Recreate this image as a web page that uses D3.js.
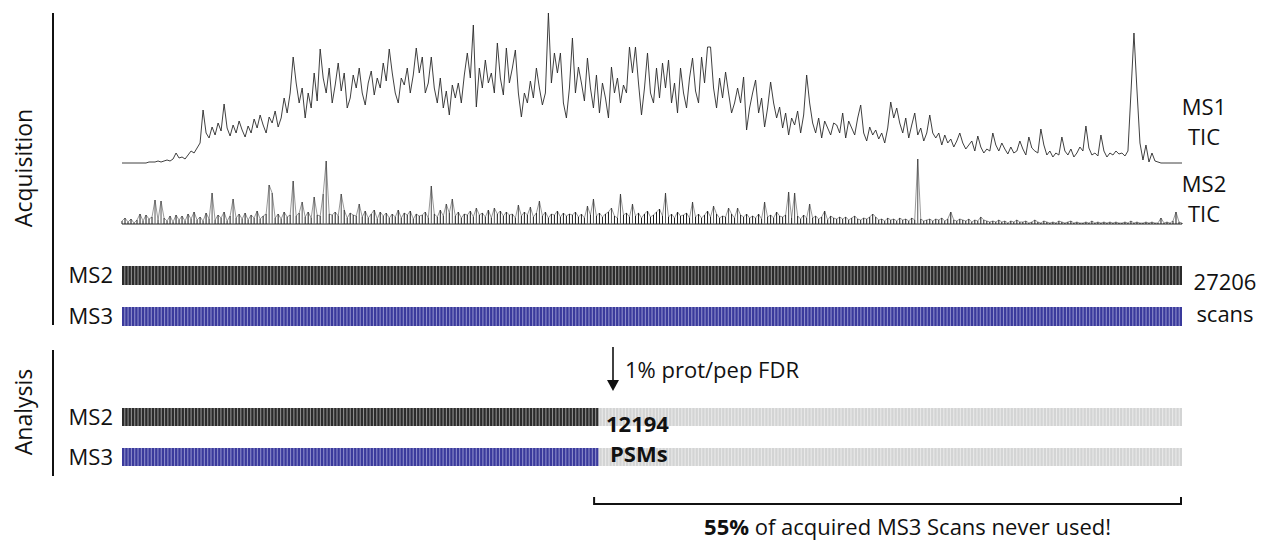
<!DOCTYPE html>
<html>
<head>
<meta charset="utf-8">
<script src="https://cdn.jsdelivr.net/npm/d3@7"></script>
<style>
  html, body { margin: 0; padding: 0; background: #fff; }
  svg { display: block; font-family: "Open Sans", "Noto Sans", sans-serif; }
</style>
</head>
<body>
<svg id="chart" width="1262" height="540"></svg>
<script>
// ---------------- DATA ----------------
// MS1 total ion current (relative intensity), evenly spaced in acquisition order
const ms1Tic = [
  0,0,0,0,0,0,0,0,0,1,
  1,1,2,1,2,3,2,4,10,5,6,4,8,12,10,15,
  20,53,30,25,36,28,40,32,59,35,27,38,30,42,33,26,37,
  30,44,35,48,38,30,46,40,52,36,45,65,50,
  70,106,80,60,75,45,70,55,90,62,
  114,85,70,95,60,78,100,72,90,55,65,88,75,95,70,58,80,92,68,85,75,100,82,114,90,70,60,85,78,95,70,88,115,
  90,106,70,80,106,75,60,85,55,72,48,78,65,80,60,88,110,
  85,138,56,95,75,103,80,90,70,120,85,68,115,80,95,113,70,
  46,70,60,82,65,95,75,58,70,150,80,110,90,
  110,60,45,75,125,70,96,80,62,105,75,55,88,
  50,80,65,45,96,70,85,60,78,70,116,90,116,
  80,48,75,110,70,60,95,65,100,75,103,60,80,50,95,70,55,85,105,72,
  60,106,80,116,116,75,55,85,65,91,70,50,60,
  75,60,86,33,55,70,83,50,65,36,55,81,60,
  45,56,35,50,28,45,38,52,30,48,88,60,40,30,45,25,42,35,28,40,
  38,30,50,25,42,35,28,45,58,30,22,36,28,33,24,30,20,35,61,45,
  55,40,30,45,25,38,50,28,35,22,30,48,30,
  25,30,18,28,20,24,16,22,30,20,14,18,22,12,27,16,10,14,12,30,
  18,12,20,14,9,16,10,12,22,14,8,26,15,12,10,34,18,8,12,6,
  10,8,26,12,8,14,6,10,16,12,37,15,8,10,7,28,12,6,10,8,12,9,10,7,12,70,
  130,73,20,3,18,1,10,2,1,0,0,0,0,0,0,0,0
];
// MS2 total ion current (relative intensity), same spacing
const ms2Tic = [
  3,6,2,5,1,4,10,3,9,5,
  7,24,4,23,6,3,8,2,9,4,
  8,3,10,5,12,4,7,3,11,5,
  31,4,9,6,12,3,8,25,6,10,
  5,11,4,9,6,13,5,8,10,39,
  31,6,10,5,12,7,9,43,8,11,
  22,7,12,6,27,9,8,30,63,10,
  9,12,8,30,14,6,11,9,8,20,
  7,13,6,10,14,5,12,8,11,6,
  10,7,14,6,11,9,13,5,10,8,
  9,12,6,38,10,7,14,8,20,11,
  25,8,12,6,10,9,13,7,16,9,
  11,7,14,6,16,10,13,8,12,9,
  10,6,19,8,12,9,17,7,11,23,
  8,12,6,10,9,13,7,11,8,10,
  9,12,7,10,6,18,9,25,8,11,
  7,10,12,16,8,6,30,9,11,7,
  20,8,11,6,10,13,7,9,12,15,
  8,31,7,10,6,12,8,9,11,6,
  22,7,10,6,9,13,7,18,10,6,
  8,7,16,10,6,16,9,7,10,6,
  8,6,10,5,22,7,9,6,12,8,
  7,9,32,6,31,8,5,9,6,20,
  6,8,5,7,13,4,8,6,5,7,
  5,7,4,6,8,5,4,6,5,7,
  10,7,4,5,3,6,4,5,3,6,
  4,5,3,6,4,65,5,3,4,5,
  3,5,4,6,3,5,12,4,3,5,
  4,3,5,2,4,3,7,4,3,2,
  3,2,4,2,3,1,3,2,4,2,
  2,3,1,2,4,2,1,3,2,1,
  2,1,3,2,1,2,3,1,2,1,
  1,2,1,3,1,2,1,2,1,2,
  1,2,1,1,2,1,3,1,2,1,
  1,2,1,2,1,1,6,1,2,1,
  3,12,2,1
];
const acquiredScans = 27206;      // MS2 / MS3 scans acquired
const psmCount = 12194;           // scans passing 1% prot/pep FDR
const scanBins = 320;             // stripes drawn per bar
const scanRows = ["MS2", "MS3"];
const ticLabels = [["MS1", "TIC"], ["MS2", "TIC"]];
const sectionLabels = ["Acquisition", "Analysis"];
const fdrLabel = "1% prot/pep FDR";
const unusedPct = "55%";
const unusedText = " of acquired MS3 Scans never used!";

// ---------------- DRAW ----------------
const svg = d3.select("#chart");
const X0 = 122, X1 = 1182;
const FS = 22;

const xIdx = d3.scaleLinear().domain([0, ms1Tic.length - 1]).range([X0, X1]);
const yMs1 = d3.scaleLinear().domain([0, 150]).range([163, 13]);
const yMs2 = d3.scaleLinear().domain([0, 64]).range([224, 160]);

svg.append("path")
  .datum(ms1Tic)
  .attr("fill", "none").attr("stroke", "#2a2a2a").attr("stroke-width", 0.9)
  .attr("stroke-linejoin", "round")
  .attr("d", d3.line().x((d, i) => xIdx(i)).y(d => yMs1(d)));

// MS2 TIC as a comb of sticks on a baseline, plus a thin trace
svg.append("line").attr("x1", X0).attr("x2", X1).attr("y1", yMs2(0)).attr("y2", yMs2(0))
  .attr("stroke", "#222").attr("stroke-width", 1.2);
svg.append("g").selectAll("line").data(ms2Tic).join("line")
  .attr("x1", (d, i) => xIdx(i)).attr("x2", (d, i) => xIdx(i))
  .attr("y1", yMs2(0)).attr("y2", d => yMs2(d))
  .attr("stroke", d => (d > 15 ? "#555" : "#1a1a1a")).attr("stroke-width", 1);
svg.append("path")
  .datum(ms2Tic)
  .attr("fill", "none").attr("stroke", "#333").attr("stroke-width", 0.5)
  .attr("d", d3.line().x((d, i) => xIdx(i)).y(d => yMs2(d)));

// TIC labels
const ticLabelY = [[115, 145], [192, 222]];
ticLabels.forEach((lines, k) => {
  lines.forEach((t, j) => {
    svg.append("text").attr("x", 1204).attr("y", ticLabelY[k][j])
      .attr("text-anchor", "middle").attr("font-size", FS).attr("fill", "#111").text(t);
  });
});

// scan bars
const xScan = d3.scaleLinear().domain([0, acquiredScans]).range([X0, X1]);
const band = d3.scaleBand().domain(d3.range(scanBins)).range([X0, X1]).paddingInner(0.33);
const binSize = acquiredScans / scanBins;

const palette = {
  MS2: { dark: "#2b2b2b", light: "#8e8e8e" },
  MS3: { dark: "#3a3a9c", light: "#8c8cca" },
  unused: { dark: "#d3d4d4", light: "#e9e9e9" }
};

function drawBar(row, y, h, cutoff) {
  const g = svg.append("g");
  const pUsed = palette[row];
  const xCut = xScan(cutoff);
  g.append("rect").attr("x", X0).attr("y", y).attr("width", xCut - X0).attr("height", h).attr("fill", pUsed.light);
  if (cutoff < acquiredScans) {
    g.append("rect").attr("x", xCut).attr("y", y).attr("width", X1 - xCut).attr("height", h).attr("fill", palette.unused.light);
  }
  g.selectAll("rect.s").data(d3.range(scanBins)).join("rect")
    .attr("class", "s")
    .attr("x", d => band(d)).attr("y", y)
    .attr("width", band.bandwidth()).attr("height", h)
    .attr("fill", d => (d * binSize < cutoff ? pUsed.dark : palette.unused.dark));
}

const acqY = { MS2: 266, MS3: 307 };
const anaY = { MS2: 408, MS3: 448 };
scanRows.forEach(r => {
  drawBar(r, acqY[r], 19, acquiredScans);
  drawBar(r, anaY[r], 18, psmCount);
  svg.append("text").attr("x", 113).attr("y", acqY[r] + 17).attr("text-anchor", "end")
    .attr("font-size", FS).attr("fill", "#111").text(r);
  svg.append("text").attr("x", 113).attr("y", anaY[r] + 17).attr("text-anchor", "end")
    .attr("font-size", FS).attr("fill", "#111").text(r);
});

// scan count label
svg.append("text").attr("x", 1225).attr("y", 290).attr("text-anchor", "middle")
  .attr("font-size", FS).attr("fill", "#111").text(d3.format("d")(acquiredScans));
svg.append("text").attr("x", 1225).attr("y", 322).attr("text-anchor", "middle")
  .attr("font-size", FS).attr("fill", "#111").text("scans");

// section lines & labels
svg.append("line").attr("x1", 53).attr("x2", 53).attr("y1", 13).attr("y2", 325)
  .attr("stroke", "#111").attr("stroke-width", 2);
svg.append("line").attr("x1", 53).attr("x2", 53).attr("y1", 350).attr("y2", 476)
  .attr("stroke", "#111").attr("stroke-width", 2);
svg.append("text").attr("transform", "translate(32,168) rotate(-90)")
  .attr("text-anchor", "middle").attr("font-size", 23).attr("fill", "#111").text(sectionLabels[0]);
svg.append("text").attr("transform", "translate(32,412) rotate(-90)")
  .attr("text-anchor", "middle").attr("font-size", 23).attr("fill", "#111").text(sectionLabels[1]);

// FDR arrow
svg.append("line").attr("x1", 613).attr("x2", 613).attr("y1", 347).attr("y2", 382)
  .attr("stroke", "#111").attr("stroke-width", 1.6);
svg.append("path").attr("d", "M607,380 L619,380 L613,391 Z").attr("fill", "#111");
svg.append("text").attr("x", 625).attr("y", 378).attr("font-size", FS).attr("fill", "#111").text(fdrLabel);

// PSM label
svg.append("text").attr("x", 606).attr("y", 432).attr("font-size", FS).attr("font-weight", "bold")
  .attr("fill", "#111").text(d3.format("d")(psmCount));
svg.append("text").attr("x", 610).attr("y", 462).attr("font-size", FS).attr("font-weight", "bold")
  .attr("fill", "#111").text("PSMs");

// bracket for unused MS3 scans
const bx0 = xScan(psmCount) - 3, bx1 = X1 - 1;
svg.append("path").attr("d", `M${bx0},497 V504 H${bx1} V497`)
  .attr("fill", "none").attr("stroke", "#111").attr("stroke-width", 2);
const cap = svg.append("text").attr("x", (bx0 + bx1) / 2 + 20).attr("y", 535)
  .attr("text-anchor", "middle").attr("font-size", FS).attr("fill", "#111");
cap.append("tspan").attr("font-weight", "bold").text(unusedPct);
cap.append("tspan").text(unusedText);
</script>
</body>
</html>
